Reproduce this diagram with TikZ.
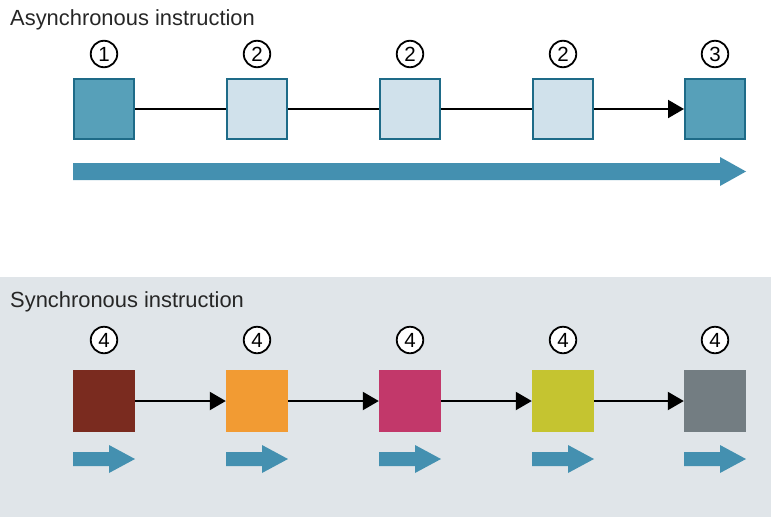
\documentclass[tikz,border=0pt]{standalone}
\usepackage{fontspec}
\setmainfont{Liberation Sans}
\usetikzlibrary{arrows.meta}
\definecolor{bggray}{HTML}{E0E5E9}
\definecolor{tealdark}{HTML}{57A0B9}
\definecolor{teallight}{HTML}{D0E1EB}
\definecolor{tealborder}{HTML}{1E6B88}
\definecolor{arrowblue}{HTML}{4490B0}
\definecolor{cRed}{HTML}{7A2B1F}
\definecolor{cOrange}{HTML}{F29B33}
\definecolor{cMagenta}{HTML}{C2386A}
\definecolor{cOlive}{HTML}{C5C430}
\definecolor{cGray}{HTML}{737D82}
\tikzset{
  box/.style={rectangle, draw=tealborder, line width=2.2pt, minimum size=59.8pt, inner sep=0pt},
  sbox/.style={rectangle, draw=none, minimum size=62pt, inner sep=0pt},
  num/.style={circle, draw=black, line width=1.8pt, minimum size=26.5pt, inner sep=0pt, fill=white, font=\fontsize{20.5}{20.5}\selectfont},
  conn/.style={draw=black, line width=2pt},
  connarrow/.style={conn, -{Triangle[length=16pt,width=18pt]}},
  title/.style={anchor=base west, inner sep=0pt, font=\fontsize{21.9}{24}\selectfont, text=black!85}
}
\begin{document}
\begin{tikzpicture}[x=1pt,y=-1pt]
\useasboundingbox (0,0) rectangle (771,517);
\fill[bggray] (0,277) rectangle (771,517);
% titles
\node[title] (t1) at (10,25) {Asynchronous instruction};
\node[title] (t2) at (10,307) {Synchronous instruction};
% top row
\node[box, fill=tealdark] (a1) at (104,109) {};
\node[box, fill=teallight] (a2) at (257,109) {};
\node[box, fill=teallight] (a3) at (410,109) {};
\node[box, fill=teallight] (a4) at (563,109) {};
\node[box, fill=tealdark] (a5) at (715,109) {};
\node[num] (n1) at (104,54) {1};
\node[num] (n2) at (257,54) {2};
\node[num] (n3) at (410,54) {2};
\node[num] (n4) at (563,54) {2};
\node[num] (n5) at (715,54) {3};
\draw[conn] (a1) -- (a2);
\draw[conn] (a2) -- (a3);
\draw[conn] (a3) -- (a4);
\draw[connarrow] (a4) -- (a5);
% big arrow
\fill[arrowblue] (73,163) -- (720,163) -- (720,157) -- (746,171.5) -- (720,186) -- (720,180) -- (73,180) -- cycle;
% bottom row
\node[sbox, fill=cRed] (b1) at (104,401) {};
\node[sbox, fill=cOrange] (b2) at (257,401) {};
\node[sbox, fill=cMagenta] (b3) at (410,401) {};
\node[sbox, fill=cOlive] (b4) at (563,401) {};
\node[sbox, fill=cGray] (b5) at (715,401) {};
\node[num] (m1) at (104,340) {4};
\node[num] (m2) at (257,340) {4};
\node[num] (m3) at (410,340) {4};
\node[num] (m4) at (563,340) {4};
\node[num] (m5) at (715,340) {4};
\draw[connarrow] (b1) -- (b2);
\draw[connarrow] (b2) -- (b3);
\draw[connarrow] (b3) -- (b4);
\draw[connarrow] (b4) -- (b5);
% small arrows
\foreach \c in {104,257,410,563,715}{
  \fill[arrowblue] (\c-31,452) -- (\c+5,452) -- (\c+5,445) -- (\c+31,459) -- (\c+5,473) -- (\c+5,466) -- (\c-31,466) -- cycle;
}
\end{tikzpicture}
\end{document}
